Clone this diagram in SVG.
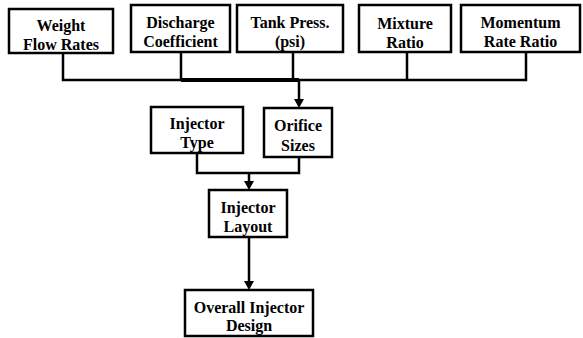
<svg xmlns="http://www.w3.org/2000/svg" width="583" height="338" viewBox="0 0 583 338">
<style>
.box{fill:#fff;stroke:#000;stroke-width:2.5}
.t{font-family:'Liberation Serif','Times New Roman','DejaVu Serif',serif;font-weight:700;font-size:16px;text-anchor:middle;fill:#000}
.c{fill:none;stroke:#000;stroke-width:2.5}
</style>
<rect width="583" height="338" fill="#fff"/>
<g id="connectors">
<path class="c" d="M63,53 V80 H526 V52"/>
<path class="c" d="M181,52 V80"/>
<path class="c" d="M293,52 V80"/>
<path class="c" d="M407,52 V80"/>
<path d="M181,80 H299" stroke="#000" stroke-width="4" fill="none"/>
<path class="c" d="M299,80 V100"/>
<path d="M294,99 L304,99 L299,108 Z"/>
<path class="c" d="M197,153 V173 H299 V157"/>
<path class="c" d="M249,173 V182"/>
<path d="M244,181 L254,181 L249,190 Z"/>
<path class="c" d="M249,237 V282"/>
<path d="M244,281 L254,281 L249,290 Z"/>
</g>
<g id="weight">
<rect class="box" x="9" y="9" width="104" height="44"/>
<text class="t" font-family="Liberation Serif, serif" x="61" y="31">Weight</text>
<text class="t" font-family="Liberation Serif, serif" x="61" y="50">Flow Rates</text>
</g>
<g id="discharge">
<rect class="box" x="131" y="5" width="99" height="47"/>
<text class="t" x="180.5" y="28">Discharge</text>
<text class="t" x="180.5" y="47">Coefficient</text>
</g>
<g id="tank">
<rect class="box" x="237" y="5" width="106" height="47"/>
<text class="t" x="290" y="28">Tank Press.</text>
<text class="t" x="290" y="47">(psi)</text>
</g>
<g id="mixture">
<rect class="box" x="359" y="5" width="92" height="47"/>
<text class="t" x="405" y="29">Mixture</text>
<text class="t" x="405" y="48">Ratio</text>
</g>
<g id="momentum">
<rect class="box" x="461" y="5" width="119" height="47"/>
<text class="t" x="520.5" y="28">Momentum</text>
<text class="t" x="520.5" y="47">Rate Ratio</text>
</g>
<g id="injtype">
<rect class="box" x="151" y="107" width="92" height="46"/>
<text class="t" x="197" y="129">Injector</text>
<text class="t" x="197" y="148">Type</text>
</g>
<g id="orifice">
<rect class="box" x="264" y="108" width="68" height="49"/>
<text class="t" x="298" y="131">Orifice</text>
<text class="t" x="298" y="151">Sizes</text>
</g>
<g id="layout">
<rect class="box" x="209" y="190" width="78" height="47"/>
<text class="t" x="248" y="213">Injector</text>
<text class="t" x="248" y="232">Layout</text>
</g>
<g id="overall">
<rect class="box" x="185" y="290" width="128" height="46"/>
<text class="t" x="249" y="313">Overall Injector</text>
<text class="t" x="249" y="331">Design</text>
</g>
</svg>
